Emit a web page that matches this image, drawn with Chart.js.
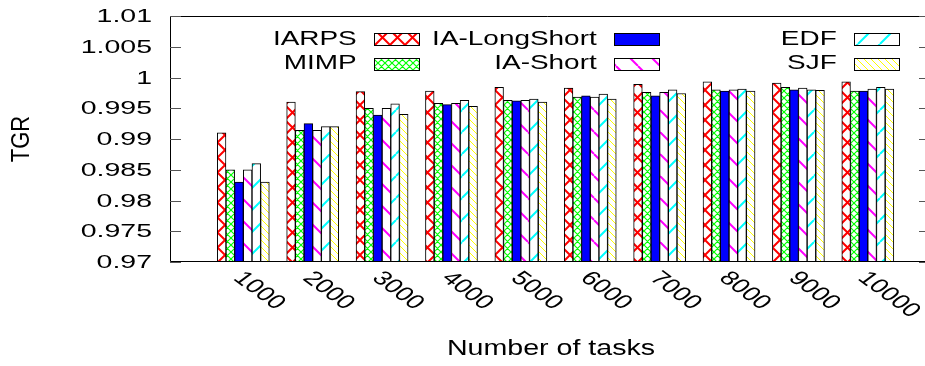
<!DOCTYPE html>
<html>
<head>
<meta charset="utf-8">
<title>TGR vs number of tasks</title>
<script src="https://cdn.jsdelivr.net/npm/chart.js@4/dist/chart.umd.min.js"></script>
<style>
    body { margin: 0; background: #fff; }
    #wrap { width: 925px; height: 366px; }
</style>
</head>
<body>
<div id="wrap"><canvas id="tgrChart" width="925" height="366"></canvas></div>
<script>
// Values
const taskCounts = [1000, 2000, 3000, 4000, 5000, 6000, 7000, 8000, 9000, 10000];
const iarps       = [0.991, 0.996, 0.9977, 0.9978, 0.9984, 0.9983, 0.9989, 0.9993, 0.9991, 0.9993];
const mimp        = [0.985, 0.9914, 0.995, 0.9958, 0.9963, 0.9968, 0.9976, 0.998, 0.9984, 0.9978];
const iaLongShort = [0.983, 0.9925, 0.9939, 0.9956, 0.9962, 0.997, 0.997, 0.9978, 0.998, 0.9978];
const iaShort     = [0.985, 0.9914, 0.995, 0.9958, 0.9963, 0.9968, 0.9976, 0.998, 0.9983, 0.9981];
const edf         = [0.986, 0.992, 0.9957, 0.9963, 0.9965, 0.9973, 0.998, 0.9981, 0.998, 0.9984];
const sjf         = [0.983, 0.992, 0.994, 0.9953, 0.996, 0.9965, 0.9974, 0.9978, 0.9979, 0.9981];

const seriesNames  = ["IARPS", "MIMP", "IA-LongShort", "IA-Short", "EDF", "SJF"];
const seriesValues = [iarps, mimp, iaLongShort, iaShort, edf, sjf];
const yTickValues  = [0.97, 0.975, 0.98, 0.985, 0.99, 0.995, 1, 1.005, 1.01];
const yTickLabels  = ["0.97", "0.975", "0.98", "0.985", "0.99", "0.995", "1", "1.005", "1.01"];
const xTickLabels  = ["1000", "2000", "3000", "4000", "5000", "6000", "7000", "8000", "9000", "10000"];

const FONT = '"Liberation Sans", Arial, sans-serif';

// gnuplot-like hatch fills, drawn on a small tile
function makePattern(size, color, lineWidth, dirs) {
    const c = document.createElement("canvas");
    c.width = size;
    c.height = size;
    const g = c.getContext("2d");
    g.fillStyle = "#fff";
    g.fillRect(0, 0, size, size);
    g.strokeStyle = color;
    g.lineWidth = lineWidth;
    g.beginPath();
    dirs.forEach(d => {
        for (let k = -1; k <= 1; k++) {
            if (d === "\\") { g.moveTo(k * size, 0); g.lineTo(k * size + size, size); }
            else { g.moveTo(k * size, size); g.lineTo(k * size + size, 0); }
        }
    });
    g.stroke();
    return g.createPattern(c, "repeat");
}

const fills = [
    makePattern(15, "#ff0000", 2, ["\\", "/"]),
    makePattern(7, "#00ff00", 1.2, ["\\", "/"]),
    "#0000ff",
    makePattern(22, "#ff00ff", 2, ["\\"]),
    makePattern(22, "#00ffff", 2, ["/"]),
    makePattern(7, "#ffff00", 1, ["\\"])
];

// text helper: gnuplot output was stretched sideways, so text is scaled in x
function drawText(ctx, text, x, y, o) {
    ctx.save();
    ctx.translate(x, y);
    ctx.scale(o.sx || 1, 1);
    if (o.rot) ctx.rotate(o.rot);
    ctx.font = o.font;
    ctx.fillStyle = "#000";
    ctx.textAlign = o.align || "left";
    ctx.textBaseline = o.base || "middle";
    ctx.fillText(text, 0, 0);
    ctx.restore();
}

// frame, ticks, labels and legend in gnuplot style
const gnuplotDecor = {
    id: "gnuplotDecor",
    afterDraw(chart) {
        const ctx = chart.ctx;
        const area = chart.chartArea;
        const xs = chart.scales.x;
        const ys = chart.scales.y;

        ctx.save();
        // border: left, top, bottom
        ctx.strokeStyle = "#000";
        ctx.lineWidth = 1;
        ctx.beginPath();
        ctx.moveTo(area.right, area.top + 0.5);
        ctx.lineTo(area.left + 0.5, area.top + 0.5);
        ctx.lineTo(area.left + 0.5, area.bottom - 0.5);
        ctx.lineTo(area.right, area.bottom - 0.5);
        ctx.stroke();

        // y ticks (inward, mirrored on the right)
        ctx.strokeStyle = "#555";
        yTickValues.forEach((v, i) => {
            const y = Math.round(ys.getPixelForValue(v)) + 0.5;
            ctx.beginPath();
            ctx.moveTo(area.left, y);
            ctx.lineTo(area.left + 11, y);
            ctx.moveTo(area.right - 6, y);
            ctx.lineTo(area.right, y);
            ctx.stroke();
            drawText(ctx, yTickLabels[i], 152, ys.getPixelForValue(v) + 1,
                { font: "19px " + FONT, sx: 1.5, align: "right" });
        });

        // x tick labels, rotated
        taskCounts.forEach((t, i) => {
            const x = xs.getPixelForValue(t);
            drawText(ctx, xTickLabels[i], x - 11, 279,
                { font: "20px " + FONT, sx: 1.36, rot: Math.PI / 4, base: "alphabetic" });
        });

        // axis titles
        drawText(ctx, "Number of tasks", 551, 349, { font: "22px " + FONT, sx: 1.3, align: "center" });
        drawText(ctx, "TGR", 22.5, 139, { font: "22px " + FONT, sx: 1.15, rot: -Math.PI / 2, align: "center" });

        // legend: 3 columns x 2 rows, text right-aligned, swatch on the right
        const colRight = [356.7, 596.7, 836.7];
        const rowMid = [39.5, 63];
        const rowTop = [33.5, 58.5];
        chart.data.datasets.forEach((ds, i) => {
            const col = Math.floor(i / 2);
            const row = i % 2;
            drawText(ctx, ds.label, colRight[col], rowMid[row],
                { font: "21px " + FONT, sx: 1.33, align: "right" });
            const bx = Math.round(colRight[col] + 17.6) + 0.5;
            ctx.fillStyle = ds.backgroundColor;
            ctx.fillRect(bx, rowTop[row], 45, 12);
            ctx.strokeStyle = "#000";
            ctx.strokeRect(bx, rowTop[row], 45, 12);
        });
        ctx.restore();
    }
};

const datasets = seriesNames.map((name, i) => ({
    label: name,
    data: taskCounts.map((t, j) => ({ x: t, y: seriesValues[i][j] })),
    backgroundColor: fills[i],
    borderColor: "#000",
    borderWidth: 1,
    barThickness: 8.67
}));

new Chart(document.getElementById("tgrChart").getContext("2d"), {
    type: "bar",
    data: { datasets: datasets },
    options: {
        responsive: false,
        animation: false,
        devicePixelRatio: 1,
        layout: { padding: { left: 170, top: 16, right: 0, bottom: 104 } },
        scales: {
            x: { type: "linear", offset: false, min: -56.4, max: 10824.3, display: false },
            y: { min: 0.97, max: 1.01, display: false }
        },
        plugins: {
            legend: { display: false },
            tooltip: { enabled: false }
        }
    },
    plugins: [gnuplotDecor]
});
</script>
</body>
</html>
